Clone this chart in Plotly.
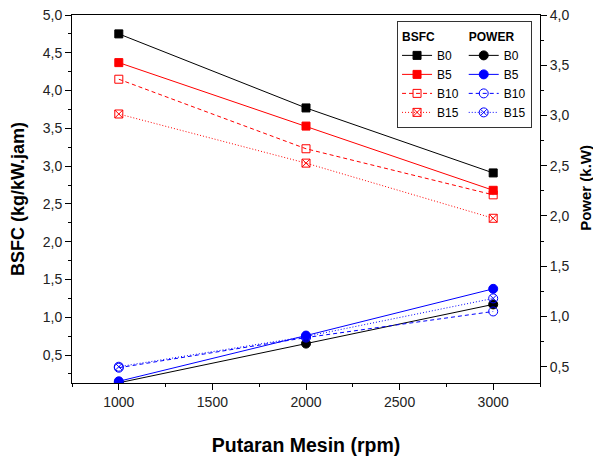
import plotly.graph_objects as go

rpm = [1000, 2000, 3000]
series_names = ["B0", "B5", "B10", "B15"]
bsfc_b0 = [4.75, 3.77, 2.91]
bsfc_b5 = [4.37, 3.53, 2.68]
bsfc_b10 = [4.15, 3.23, 2.62]
bsfc_b15 = [3.69, 3.04, 2.31]
power_b0 = [0.34, 0.73, 1.12]
power_b5 = [0.355, 0.81, 1.275]
power_b10 = [0.49, 0.79, 1.05]
power_b15 = [0.50, 0.80, 1.18]

x_tick_vals = [1000, 1500, 2000, 2500, 3000]

bsfc_data = [bsfc_b0, bsfc_b5, bsfc_b10, bsfc_b15]
power_data = [power_b0, power_b5, power_b10, power_b15]

bsfc_colors = ["#000000", "#ff0000", "#ff0000", "#ff0000"]
power_colors = ["#000000", "#0000ff", "#0000ff", "#0000ff"]
dashes = ["solid", "solid", "4px,3px", "1px,2px"]
bsfc_symbols = ["square", "square", "square-open", "square-x-open"]
power_symbols = ["circle", "circle", "circle-open", "circle-x-open"]

fig = go.Figure()

for i, name in enumerate(series_names):
    tr = dict(
        x=rpm, y=bsfc_data[i], name=name, mode="lines+markers",
        line=dict(color=bsfc_colors[i], width=1, dash=dashes[i]),
        marker=dict(symbol=bsfc_symbols[i], size=8, color=bsfc_colors[i],
                    line=dict(color=bsfc_colors[i], width=1)),
        legendgroup="bsfc", yaxis="y",
    )
    if i == 0:
        tr["legendgrouptitle"] = dict(text="<b>BSFC</b>", font=dict(size=12, color="black"))
    fig.add_trace(go.Scatter(**tr))

for i, name in enumerate(series_names):
    tr = dict(
        x=rpm, y=power_data[i], name=name, mode="lines+markers",
        line=dict(color=power_colors[i], width=1, dash=dashes[i]),
        marker=dict(symbol=power_symbols[i], size=9, color=power_colors[i],
                    line=dict(color=power_colors[i], width=1)),
        legendgroup="power", yaxis="y2",
    )
    if i == 0:
        tr["legendgrouptitle"] = dict(text="<b>POWER</b>", font=dict(size=12, color="black"))
    fig.add_trace(go.Scatter(**tr))

axis_common = dict(
    showline=True, linecolor="black", linewidth=1,
    ticks="outside", ticklen=6, tickwidth=1, tickcolor="black",
    showgrid=False, zeroline=False, automargin=False,
    ticklabeloverflow="allow",
    tickfont=dict(family="Liberation Sans, Arial", size=14, color="#222222"),
)

fig.update_layout(
    width=593, height=449,
    margin=dict(l=64, r=61, t=7, b=74),
    paper_bgcolor="white", plot_bgcolor="white",
    separators=",.",
    font=dict(family="Liberation Sans, Arial", color="black"),
    showlegend=True,
    legend=dict(
        orientation="h", traceorder="grouped",
        x=0.983, y=0.984, xanchor="right", yanchor="top",
        bordercolor="#333333", borderwidth=1, bgcolor="white",
        font=dict(size=12, color="black"),
        tracegroupgap=0, itemwidth=30,
    ),
    xaxis=dict(
        range=[750, 3250], tickvals=x_tick_vals, tickformat="d",
        mirror=True,
        minor=dict(dtick=250, tick0=0, ticks="outside", ticklen=3, tickcolor="black"),
        title=dict(text="<b>Putaran Mesin (rpm)</b>", font=dict(size=19.5), standoff=29),
        **axis_common,
    ),
    yaxis=dict(
        range=[0.13, 5.0], dtick=0.5, tick0=0, tickformat=".1f",
        minor=dict(dtick=0.25, tick0=0, ticks="outside", ticklen=3, tickcolor="black"),
        title=dict(text="<b>BSFC (kg/kW.jam)</b>", font=dict(size=18), standoff=14),
        **axis_common,
    ),
    yaxis2=dict(
        range=[0.338, 4.0], dtick=0.5, tick0=0, tickformat=".1f",
        overlaying="y", side="right", anchor="x",
        minor=dict(dtick=0.25, tick0=0, ticks="outside", ticklen=3, tickcolor="black"),
        **axis_common,
    ),
    annotations=[dict(
        text="<b>Power (k.W)</b>", textangle=-90, showarrow=False,
        xref="paper", yref="paper", x=1.098, y=0.53,
        xanchor="center", yanchor="middle",
        font=dict(family="Liberation Sans, Arial", size=15, color="black"),
    )],
)

fig.write_html("out.html")
